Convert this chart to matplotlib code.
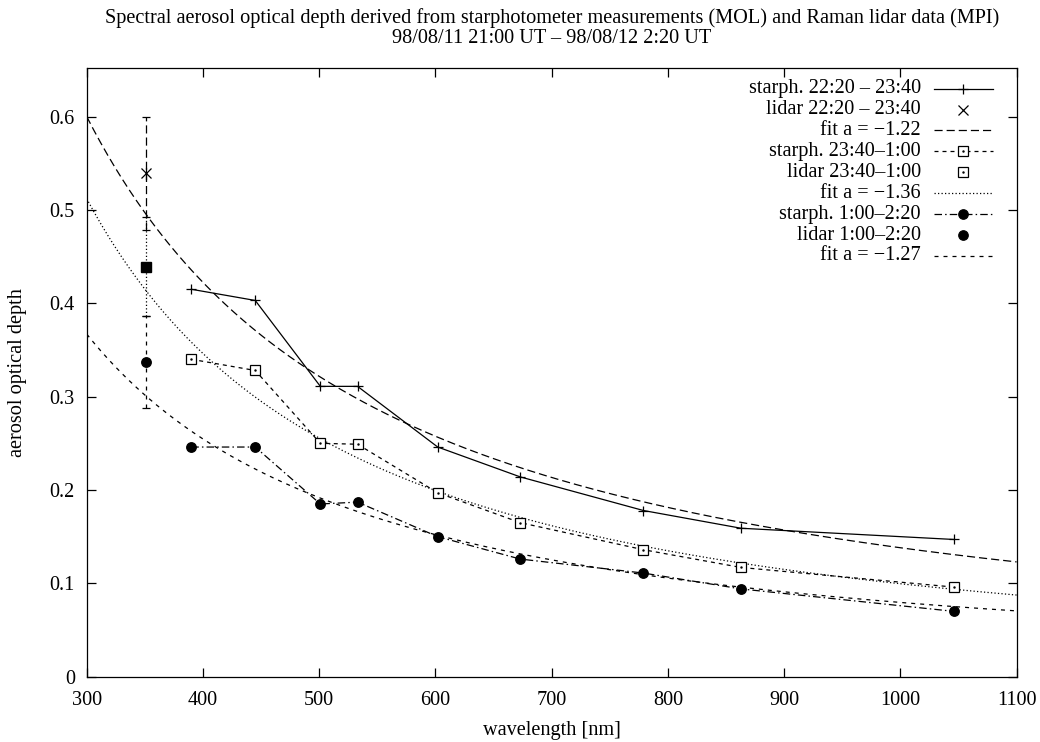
import numpy as np
import matplotlib
matplotlib.use("Agg")
import matplotlib.pyplot as plt
from matplotlib.lines import Line2D

# ---------------- data ----------------
wavelengths = [390, 445, 501, 533, 602, 673, 779, 863, 1046]
starph_1 = [0.415, 0.403, 0.311, 0.311, 0.246, 0.214, 0.178, 0.159, 0.147]
starph_2 = [0.340, 0.328, 0.250, 0.249, 0.197, 0.165, 0.136, 0.117, 0.096]
starph_3 = [0.246, 0.246, 0.185, 0.187, 0.150, 0.126, 0.111, 0.094, 0.070]

lidar_wl = 351
lidar_vals = [0.539, 0.439, 0.337]
lidar_errs = [0.060, 0.053, 0.049]

fit_a = [-1.22, -1.36, -1.27]
fit_tau300 = [0.600, 0.512, 0.367]
fit_ref_wl = 300.0

labels = ["starph. 22:20 \u2013 23:40", "lidar 22:20 \u2013 23:40", "fit a = \u22121.22",
          "starph. 23:40\u20131:00", "lidar 23:40\u20131:00", "fit a = \u22121.36",
          "starph. 1:00\u20132:20", "lidar 1:00\u20132:20", "fit a = \u22121.27"]

title_lines = ["Spectral aerosol optical depth derived from starphotometer measurements (MOL) and Raman lidar data (MPI)",
               "98/08/11 21:00 UT \u2013 98/08/12 2:20 UT"]
xticks = [300, 400, 500, 600, 700, 800, 900, 1000, 1100]
yticks = [0, 0.1, 0.2, 0.3, 0.4, 0.5, 0.6]
ytick_labels = ["0", "0.1", "0.2", "0.3", "0.4", "0.5", "0.6"]

# ---------------- style ----------------
plt.rcParams['font.family'] = ['Liberation Serif', 'DejaVu Serif']
FS = 14.6
LW = 0.9
st_fit1 = (0, (6.5, 3.2))
st_st2 = (0, (3.2, 3.2))
st_fit2 = (0, (1.0, 1.8))
st_st3 = (0, (6.0, 2.5, 1.2, 2.5))
st_fit3 = (0, (3.2, 4.0))

fig = plt.figure(figsize=(10.4, 7.42), dpi=100)
W, H = 1040, 742
ax = fig.add_axes([86.7 / W, 1 - 676.7 / H, (1016.6 - 86.7) / W, (676.7 - 68) / H])

xf = np.linspace(300, 1100, 400)
fit_styles = [st_fit1, st_fit2, st_fit3]
for a, t0, ls in zip(fit_a, fit_tau300, fit_styles):
    ax.plot(xf, t0 * (xf / fit_ref_wl) ** a, color='black', lw=LW, linestyle=ls)

# starphotometer series
ax.plot(wavelengths, starph_1, color='black', lw=LW, linestyle='-',
        marker='+', markersize=7, markeredgewidth=LW)
ax.plot(wavelengths, starph_2, color='black', lw=LW, linestyle=st_st2,
        marker='s', markersize=7.2, markerfacecolor='white', markeredgewidth=LW)
ax.plot(wavelengths, starph_2, color='black', lw=0, linestyle='none',
        marker='.', markersize=1.5)
ax.plot(wavelengths, starph_3, color='black', lw=LW, linestyle=st_st3,
        marker='o', markersize=6.8)

# lidar points with error bars
err_styles = [st_fit1, st_fit2, st_fit3]
lidar_markers = [dict(marker='x', markersize=6.5, markeredgewidth=LW),
                 dict(marker='s', markersize=7.8),
                 dict(marker='o', markersize=6.8)]
for v, e, ls, mk in zip(lidar_vals, lidar_errs, err_styles, lidar_markers):
    eb = ax.errorbar([lidar_wl], [v], yerr=[e], fmt='none', ecolor='black',
                     elinewidth=LW, capsize=3, capthick=LW)
    for coll in eb[2]:
        coll.set_linestyle(ls)
    ax.plot([lidar_wl], [v], color='black', linestyle='none', **mk)
# short vertical stroke through the x marker (gnuplot shows it as an asterisk)
ax.plot([lidar_wl, lidar_wl], [lidar_vals[0] - 0.006, lidar_vals[0] + 0.006],
        color='black', lw=LW)

ax.set_xlim(300, 1100)
ax.set_ylim(0, 0.652)
ax.set_xticks(xticks)
ax.set_xticklabels([str(t) for t in xticks])
ax.set_yticks(yticks)
ax.set_yticklabels(ytick_labels)
ax.tick_params(direction='in', length=6.5, width=LW, top=True, right=True,
               labelsize=FS)
ax.tick_params(axis='y', pad=8.5)
ax.tick_params(axis='x', pad=10)
for sp in ax.spines.values():
    sp.set_linewidth(LW)
ax.set_xlabel("wavelength [nm]", fontsize=FS, labelpad=8)
ax.set_ylabel("aerosol optical depth", fontsize=FS, labelpad=16)

# title
ax_cx = ((86.7 + 1016.6) / 2) / W
fig.text(ax_cx, 1 - 18.5 / H, title_lines[0], ha='center', va='center', fontsize=FS)
fig.text(ax_cx, 1 - 38.5 / H, title_lines[1], ha='center', va='center', fontsize=FS)

# manual legend (gnuplot style: right-aligned text, sample to right)
rows_y = [89, 109.7, 130.3, 151.3, 172.3, 193.3, 214, 235, 256]
tx = 920.7
lx0, lx1, lxc = 934.3, 992.7, 963.3
samples = [
    dict(ls='-', m='+', ms=7, mfc='black'),
    dict(ls=None, m='x', ms=6.5, mfc='black'),
    dict(ls=st_fit1, m=None),
    dict(ls=st_st2, m='s', ms=7.2, mfc='white', dot=True),
    dict(ls=None, m='s', ms=7.2, mfc='white', dot=True),
    dict(ls=st_fit2, m=None),
    dict(ls=st_st3, m='o', ms=6.8, mfc='black'),
    dict(ls=None, m='o', ms=6.8, mfc='black'),
    dict(ls=st_fit3, m=None),
]
for lab, yy, s in zip(labels, rows_y, samples):
    fy = 1 - yy / H
    fig.text(tx / W, fy, lab, ha='right', va='center', fontsize=FS)
    if s['ls'] is not None:
        fig.add_artist(Line2D([lx0 / W, lx1 / W], [fy, fy], color='black', lw=LW,
                              linestyle=s['ls'], transform=fig.transFigure))
    if s['m'] is not None:
        fig.add_artist(Line2D([lxc / W], [fy], color='black', linestyle='none',
                              marker=s['m'], markersize=s['ms'], markerfacecolor=s['mfc'],
                              markeredgewidth=LW, transform=fig.transFigure))
        if s.get('dot'):
            fig.add_artist(Line2D([lxc / W], [fy], color='black', linestyle='none',
                                  marker='.', markersize=1.5, transform=fig.transFigure))

fig.savefig("out.png", dpi=100)
